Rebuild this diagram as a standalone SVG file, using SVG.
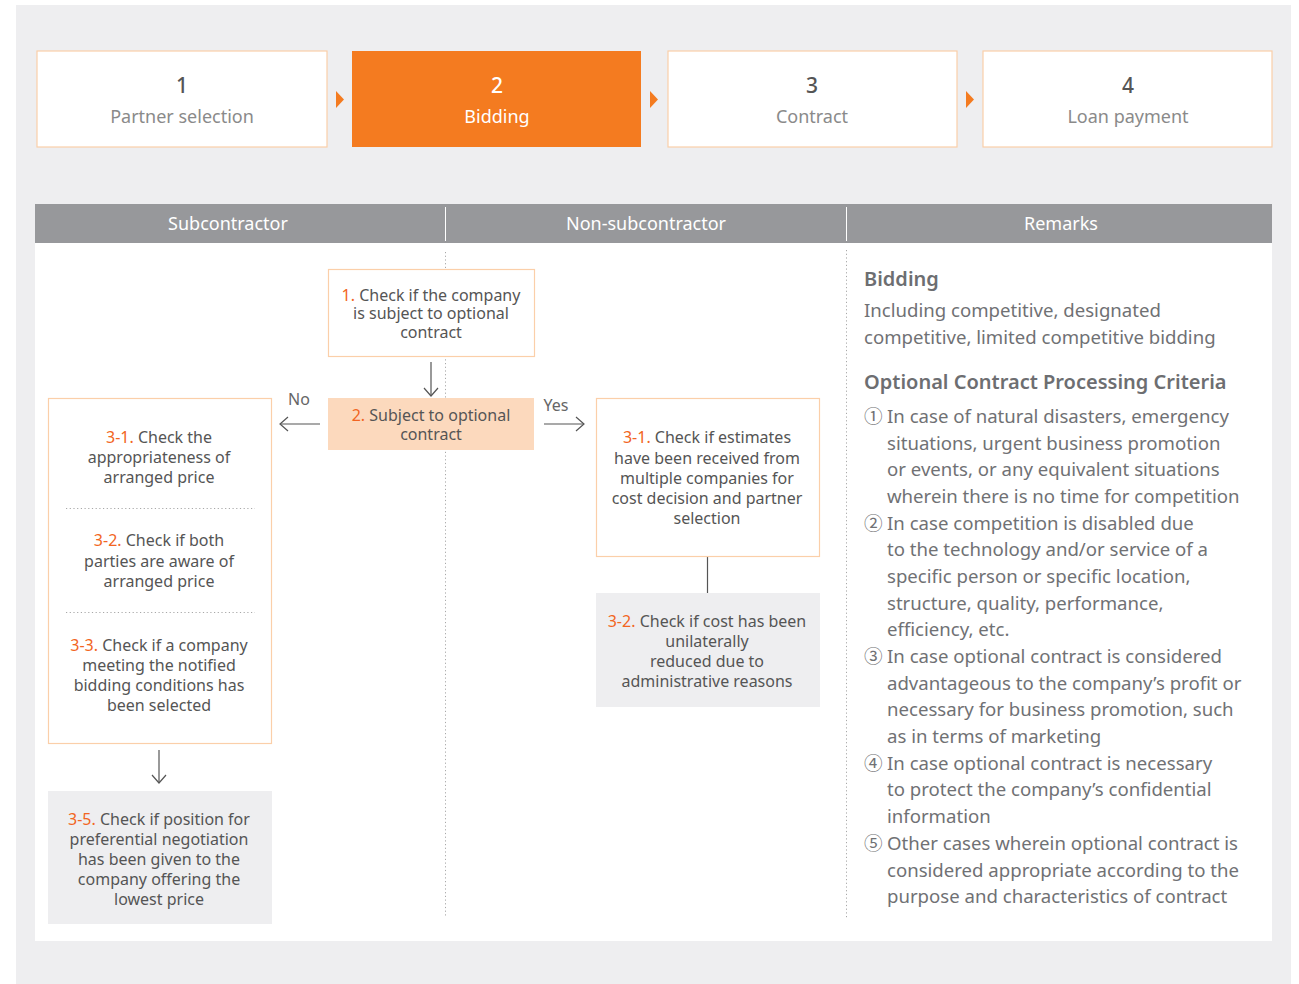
<svg xmlns="http://www.w3.org/2000/svg" width="1299" height="984" viewBox="0 0 1299 984">
<style>
text{font-family:"Noto Sans","Open Sans","Noto Sans CJK KR",sans-serif;}
.stepn{font-size:21px;fill:#555;text-anchor:middle;font-weight:500;}
.stepl{font-size:18px;fill:#8a8a8a;text-anchor:middle;}
.stepw{fill:#fff;}
.hdr{font-size:18px;fill:#fff;text-anchor:middle;}
.bt{font-size:16px;fill:#555;text-anchor:middle;}
.or{fill:#f26522;}
.rh{font-size:20px;fill:#6d6e71;font-weight:600;}
.rt{font-size:18.6px;fill:#707174;}
.obox{fill:#fff;stroke:#fbcfa9;stroke-width:1.2;}
.gbox{fill:#eeeef0;}
.dot{stroke:#a8a8a8;stroke-width:1;stroke-dasharray:1.2,2.5;fill:none;}
.arr{stroke:#555;stroke-width:1.2;fill:none;}
.tri{fill:#f47b20;}
</style>
<rect x="0" y="0" width="1299" height="984" fill="#fff"/>
<rect x="16" y="5" width="1275" height="979" fill="#eeeef0"/>

<g id="step1"><rect x="37" y="51" width="290" height="96" class="obox"/><text x="182" y="93" class="stepn">1</text><text x="182" y="123" class="stepl">Partner selection</text></g>
<g id="step2"><rect x="352" y="51" width="289" height="96" fill="#f47b20"/><text x="497" y="93" class="stepn stepw">2</text><text x="497" y="123" class="stepl stepw">Bidding</text></g>
<g id="step3"><rect x="668" y="51" width="289" height="96" class="obox"/><text x="812" y="93" class="stepn">3</text><text x="812" y="123" class="stepl">Contract</text></g>
<g id="step4"><rect x="983" y="51" width="289" height="96" class="obox"/><text x="1128" y="93" class="stepn">4</text><text x="1128" y="123" class="stepl">Loan payment</text></g>

<g id="header">
<rect x="35" y="204" width="1237" height="39" fill="#97989b"/>
<line x1="445.5" y1="207" x2="445.5" y2="241" stroke="#fff" stroke-width="1"/>
<line x1="846.5" y1="207" x2="846.5" y2="241" stroke="#fff" stroke-width="1"/>
<text x="228" y="230" class="hdr">Subcontractor</text>
<text x="646" y="230" class="hdr">Non-subcontractor</text>
<text x="1061" y="230" class="hdr">Remarks</text>
</g>
<rect x="35" y="243" width="1237" height="698" fill="#fff"/>
<line x1="445.5" y1="252" x2="445.5" y2="918" class="dot"/>
<line x1="846.5" y1="250" x2="846.5" y2="918" class="dot"/>

<g id="connectors">
<line x1="431" y1="362" x2="431" y2="396" class="arr"/><polyline points="424,388 431,396 438,388" class="arr"/>
<line x1="280" y1="424" x2="320" y2="424" class="arr"/><polyline points="288,417 280,424 288,431" class="arr"/>
<line x1="544" y1="424" x2="584" y2="424" class="arr"/><polyline points="576,417 584,424 576,431" class="arr"/>
<line x1="159" y1="750" x2="159" y2="783" class="arr"/><polyline points="152,775 159,783 166,775" class="arr"/>
<line x1="707.5" y1="557" x2="707.5" y2="593" class="arr"/>
<text x="299" y="405" class="bt" style="fill:#666">No</text>
<text x="556" y="411" class="bt" style="fill:#666">Yes</text>
</g>

<g id="n1"><rect x="328.5" y="269.5" width="206" height="87" class="obox"/>
<text class="bt"><tspan x="431" y="301"><tspan class="or">1.</tspan> Check if the company</tspan><tspan x="431" y="319">is subject to optional</tspan><tspan x="431" y="338">contract</tspan></text></g>

<g id="n2"><rect x="328" y="398" width="206" height="52" fill="#fcd9bd"/>
<text class="bt"><tspan x="431" y="421"><tspan class="or">2.</tspan> Subject to optional</tspan><tspan x="431" y="440">contract</tspan></text></g>

<g id="n3left"><rect x="48.5" y="398.5" width="223" height="345" class="obox"/>
<text class="bt"><tspan x="159" y="443"><tspan class="or">3-1.</tspan> Check the</tspan><tspan x="159" y="463">appropriateness of</tspan><tspan x="159" y="483">arranged price</tspan></text>
<line x1="66" y1="508.5" x2="255" y2="508.5" class="dot"/>
<text class="bt"><tspan x="159" y="546"><tspan class="or">3-2.</tspan> Check if both</tspan><tspan x="159" y="567">parties are aware of</tspan><tspan x="159" y="587">arranged price</tspan></text>
<line x1="66" y1="612.5" x2="255" y2="612.5" class="dot"/>
<text class="bt"><tspan x="159" y="651"><tspan class="or">3-3.</tspan> Check if a company</tspan><tspan x="159" y="671">meeting the notified</tspan><tspan x="159" y="691">bidding conditions has</tspan><tspan x="159" y="711">been selected</tspan></text></g>

<g id="n35"><rect x="48" y="791" width="224" height="133" class="gbox"/>
<text class="bt"><tspan x="159" y="825"><tspan class="or">3-5.</tspan> Check if position for</tspan><tspan x="159" y="845">preferential negotiation</tspan><tspan x="159" y="865">has been given to the</tspan><tspan x="159" y="885">company offering the</tspan><tspan x="159" y="905">lowest price</tspan></text></g>

<g id="n31right"><rect x="596.5" y="398.5" width="223" height="158" class="obox"/>
<text class="bt"><tspan x="707" y="443"><tspan class="or">3-1.</tspan> Check if estimates</tspan><tspan x="707" y="464">have been received from</tspan><tspan x="707" y="484">multiple companies for</tspan><tspan x="707" y="504">cost decision and partner</tspan><tspan x="707" y="524">selection</tspan></text></g>

<g id="n32right"><rect x="596" y="593" width="224" height="114" class="gbox"/>
<text class="bt"><tspan x="707" y="627"><tspan class="or">3-2.</tspan> Check if cost has been</tspan><tspan x="707" y="647">unilaterally</tspan><tspan x="707" y="667">reduced due to</tspan><tspan x="707" y="687">administrative reasons</tspan></text></g>

<g id="remarks">
<text x="864" y="286" class="rh">Bidding</text>
<text x="864" y="317" class="rt">Including competitive, designated</text>
<text x="864" y="344" class="rt">competitive, limited competitive bidding</text>
<text x="864" y="389" class="rh">Optional Contract Processing Criteria</text>
<text class="rt">
<tspan x="864" y="423">①</tspan><tspan x="887" y="423">In case of natural disasters, emergency</tspan>
<tspan x="887" y="450">situations, urgent business promotion</tspan>
<tspan x="887" y="476">or events, or any equivalent situations</tspan>
<tspan x="887" y="503">wherein there is no time for competition</tspan>
<tspan x="864" y="530">②</tspan><tspan x="887" y="530">In case competition is disabled due</tspan>
<tspan x="887" y="556">to the technology and/or service of a</tspan>
<tspan x="887" y="583">specific person or specific location,</tspan>
<tspan x="887" y="610">structure, quality, performance,</tspan>
<tspan x="887" y="636">efficiency, etc.</tspan>
<tspan x="864" y="663">③</tspan><tspan x="887" y="663">In case optional contract is considered</tspan>
<tspan x="887" y="690">advantageous to the company’s profit or</tspan>
<tspan x="887" y="716">necessary for business promotion, such</tspan>
<tspan x="887" y="743">as in terms of marketing</tspan>
<tspan x="864" y="770">④</tspan><tspan x="887" y="770">In case optional contract is necessary</tspan>
<tspan x="887" y="796">to protect the company’s confidential</tspan>
<tspan x="887" y="823">information</tspan>
<tspan x="864" y="850">⑤</tspan><tspan x="887" y="850">Other cases wherein optional contract is</tspan>
<tspan x="887" y="877">considered appropriate according to the</tspan>
<tspan x="887" y="903">purpose and characteristics of contract</tspan>
</text>
</g>

<g id="arrows-steps">
<polygon points="336,91 344,99.5 336,108" class="tri"/>
<polygon points="650,91 658,99.5 650,108" class="tri"/>
<polygon points="966,91 974,99.5 966,108" class="tri"/>
</g>
</svg>
